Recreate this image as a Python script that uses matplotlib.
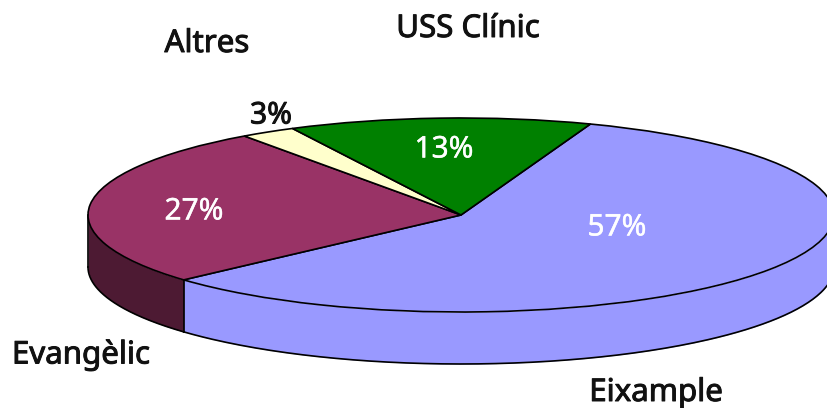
import numpy as np
import matplotlib
matplotlib.use('Agg')
import matplotlib.pyplot as plt
import matplotlib.patheffects as pe

labels = ['Eixample', 'Evangèlic', 'Altres', 'USS Clínic']
values = [57.7, 26.8, 2.4, 13.1]
pct_labels = ['57%', '27%', '3%', '13%']
colors = ['#9999FF', '#993366', '#FFFFCC', '#008000']
side_colors = ['#9999FF', '#4D1A33', '#FFFFCC', '#008000']
pct_colors = ['white', 'white', '#111111', 'white']
pct_strokes = [0.3, 0.3, 0.7, 0.3]
start_angle = 69.7
depth = 0.536

plt.rcParams['font.family'] = ['Noto Sans', 'DejaVu Sans']

fig = plt.figure(figsize=(8.27, 4.08), dpi=100)
ax = fig.add_axes([0, 0, 1, 1])

# side wall first, only the part of each slice in the lower half shows
angle = start_angle
for val, col in zip(values, side_colors):
    end = angle - val * 3.6
    lo2, hi2 = max(end, -180), min(angle, 0)
    if hi2 > lo2:
        t = np.radians(np.linspace(lo2, hi2, 200))
        ax.fill_between(np.cos(t), np.sin(t), np.sin(t) - depth, color=col, lw=0, zorder=1)
        ax.plot(np.cos(t), np.sin(t) - depth, color='black', lw=1.2, zorder=2)
        ax.plot([np.cos(t[0])] * 2, [np.sin(t[0]), np.sin(t[0]) - depth], color='black', lw=1.2, zorder=2)
    angle = end

wedges, _ = ax.pie(values, colors=colors, startangle=start_angle, counterclock=False,
                   radius=1, wedgeprops={'edgecolor': 'black', 'linewidth': 1.2, 'zorder': 3})

ax.set_aspect('auto')
ax.set_xlim(-461 / 373, (827 - 461) / 373)
ax.set_ylim((215 - 408) / 97, 215 / 97)
ax.axis('off')

pct_pos = [(617, 228), (194, 212), (271, 116), (444, 150)]
for txt, col, sw, (px, py) in zip(pct_labels, pct_colors, pct_strokes, pct_pos):
    t = fig.text(px / 827, 1 - py / 408, txt, color=col, fontsize=21.5, ha='center', va='center')
    t.set_path_effects([pe.withStroke(linewidth=sw, foreground=col)])

label_pos = [(656, 393), (81, 355), (207, 44), (468, 29)]
for txt, (px, py) in zip(labels, label_pos):
    t = fig.text(px / 827, 1 - py / 408, txt, color='#111111', fontsize=22.5, ha='center', va='center')
    t.set_path_effects([pe.withStroke(linewidth=0.7, foreground='#111111')])

fig.savefig('out.png', dpi=100)
